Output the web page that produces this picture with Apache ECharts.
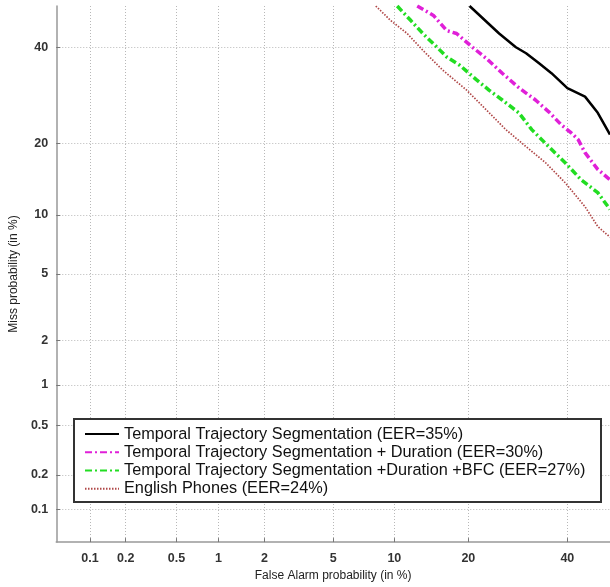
<!DOCTYPE html>
<html>
<head>
<meta charset="utf-8">
<script src="https://cdn.jsdelivr.net/npm/echarts@6/dist/echarts.min.js"></script>
<style>html,body{margin:0;padding:0;background:#fff;}#c{width:610px;height:587px;}</style>
</head>
<body>
<div id="c"></div>
<script>
// Tick labels (percent)
const tickValues = [0.1, 0.2, 0.5, 1, 2, 5, 10, 20, 40];
const tickLabels = ['0.1', '0.2', '0.5', '1', '2', '5', '10', '20', '40'];
const axisMinPct = 0.05;
const axisMaxPct = 50;

const seriesNames = [
  'Temporal Trajectory Segmentation (EER=35%)',
  'Temporal Trajectory Segmentation + Duration (EER=30%)',
  'Temporal Trajectory Segmentation +Duration +BFC (EER=27%)',
  'English Phones (EER=24%)'
];

// False alarm (%) and miss (%) values
const faBlack   = [20.2, 25.5, 28.8, 30.9, 33.6, 36.4, 40.0, 44.1, 47.1, 50.0];
const missBlack = [50.0, 43.3, 40.0, 38.6, 36.3, 34.0, 30.7, 28.9, 25.6, 21.5];

const faMagenta   = [12.6, 14.7, 16.6, 18.1, 20.7, 23.1, 26.1, 29.4, 32.9, 35.8, 38.6, 40.9, 42.5, 44.1, 47.1, 50.0];
const missMagenta = [50.0, 47.7, 44.0, 43.3, 40.0, 37.4, 34.0, 30.8, 28.2, 25.8, 23.3, 21.8, 20.6, 18.4, 15.8, 14.3];

const faGreen   = [10.3, 11.8, 13.3, 15.2, 16.6, 18.6, 21.4, 23.6, 26.1, 29.4, 32.1, 35.8, 39.5, 43.2, 47.1, 50.0];
const missGreen = [50.0, 46.5, 43.3, 40.0, 37.7, 35.8, 32.5, 30.3, 28.2, 25.6, 22.4, 19.4, 16.8, 14.3, 12.6, 10.6];

const faRed   = [8.2, 9.6, 11.4, 13.3, 16.0, 19.7, 23.1, 26.8, 30.9, 35.1, 39.5, 44.1, 47.1, 50.0];
const missRed = [50.0, 46.5, 43.3, 39.3, 34.7, 30.3, 26.2, 22.4, 19.4, 16.8, 13.9, 10.9, 8.8, 7.8];

// inverse normal CDF (Acklam)
function probit(p) {
  const a=[-3.969683028665376e+01,2.209460984245205e+02,-2.759285104469687e+02,1.383577518672690e+02,-3.066479806614716e+01,2.506628277459239e+00];
  const b=[-5.447609879822406e+01,1.615858368580409e+02,-1.556989798598866e+02,6.680131188771972e+01,-1.328068155288572e+01];
  const c=[-7.784894002430293e-03,-3.223964580411365e-01,-2.400758277161838e+00,-2.549671348616618e+00,4.374664141464968e+00,2.938163982698783e+00];
  const d=[7.784695709041462e-03,3.224671290700398e-01,2.445134137142996e+00,3.754408661907416e+00];
  const pl=0.02425, ph=1-pl; let q, r;
  if (p < pl) { q=Math.sqrt(-2*Math.log(p)); return (((((c[0]*q+c[1])*q+c[2])*q+c[3])*q+c[4])*q+c[5])/((((d[0]*q+d[1])*q+d[2])*q+d[3])*q+1); }
  if (p <= ph) { q=p-0.5; r=q*q; return (((((a[0]*r+a[1])*r+a[2])*r+a[3])*r+a[4])*r+a[5])*q/(((((b[0]*r+b[1])*r+b[2])*r+b[3])*r+b[4])*r+1); }
  q=Math.sqrt(-2*Math.log(1-p)); return -(((((c[0]*q+c[1])*q+c[2])*q+c[3])*q+c[4])*q+c[5])/((((d[0]*q+d[1])*q+d[2])*q+d[3])*q+1);
}
const pz = v => probit(v / 100);
const pairs = (fa, miss) => fa.map((f, i) => [pz(f), pz(miss[i])]);
const tickZ = tickValues.map(pz);
function labelFor(v) {
  let best = 0, bd = 1e9;
  tickZ.forEach((z, i) => { const dd = Math.abs(z - v); if (dd < bd) { bd = dd; best = i; } });
  return bd < 1e-3 ? tickLabels[best] : '';
}

const FONT = 'Liberation Sans, Arial, Helvetica, sans-serif';

function makeAxis(nameStr, gap, isY) {
  return {
    type: 'value',
    min: pz(axisMinPct),
    max: pz(axisMaxPct),
    name: nameStr,
    nameLocation: 'middle',
    nameGap: gap,
    nameTextStyle: { fontFamily: FONT, fontSize: 12, color: '#222' },
    axisLine: { show: true, onZero: false, lineStyle: { color: '#999', width: 1.5 } },
    axisTick: { show: true, inside: true, length: 4, customValues: tickZ, lineStyle: { color: '#777' } },
    axisLabel: {
      customValues: tickZ,
      formatter: labelFor,
      fontFamily: FONT, fontSize: 12.5, fontWeight: 'bold', color: '#333',
      margin: isY ? 8 : 10
    },
    splitLine: { show: true, lineStyle: { color: '#b8b8b8', type: [1, 2], width: 1 } }
  };
}

const chart = echarts.init(document.getElementById('c'), null, { renderer: 'canvas' });
chart.setOption({
  animation: false,
  backgroundColor: '#fff',
  grid: { left: 53, right: -2, top: 6, bottom: 43, containLabel: false },
  xAxis: makeAxis('False Alarm probability (in %)', 27, false),
  yAxis: makeAxis('Miss probability (in %)', 36, true),
  graphic: [{
    type: 'rect', left: 73, top: 418, z: 10,
    shape: { width: 527, height: 83 },
    style: { fill: '#fff', stroke: '#333', lineWidth: 2 }
  }],
  legend: {
    orient: 'vertical', left: 79, top: 420, z: 20,
    itemWidth: 34, itemHeight: 10, itemGap: 0,
    itemStyle: { opacity: 0 },
    textStyle: { fontFamily: FONT, fontSize: 16.3, color: '#111', lineHeight: 18.2 },
    data: seriesNames
  },
  series: [
    { name: seriesNames[0], type: 'line', data: pairs(faBlack, missBlack), symbol: 'none',
      lineStyle: { color: '#000', width: 2.5 }, itemStyle: { color: '#000' } },
    { name: seriesNames[1], type: 'line', data: pairs(faMagenta, missMagenta), symbol: 'none',
      lineStyle: { color: '#e020d8', width: 3.5, type: [7, 3, 2, 3] }, itemStyle: { color: '#e020d8' } },
    { name: seriesNames[2], type: 'line', data: pairs(faGreen, missGreen), symbol: 'none',
      lineStyle: { color: '#22dd22', width: 3.5, type: [7, 3, 2, 3] }, itemStyle: { color: '#22dd22' } },
    { name: seriesNames[3], type: 'line', data: pairs(faRed, missRed), symbol: 'none',
      lineStyle: { color: '#b04848', width: 1.7, type: [1.5, 1.5] }, itemStyle: { color: '#b04848' } }
  ]
});
</script>
</body>
</html>
